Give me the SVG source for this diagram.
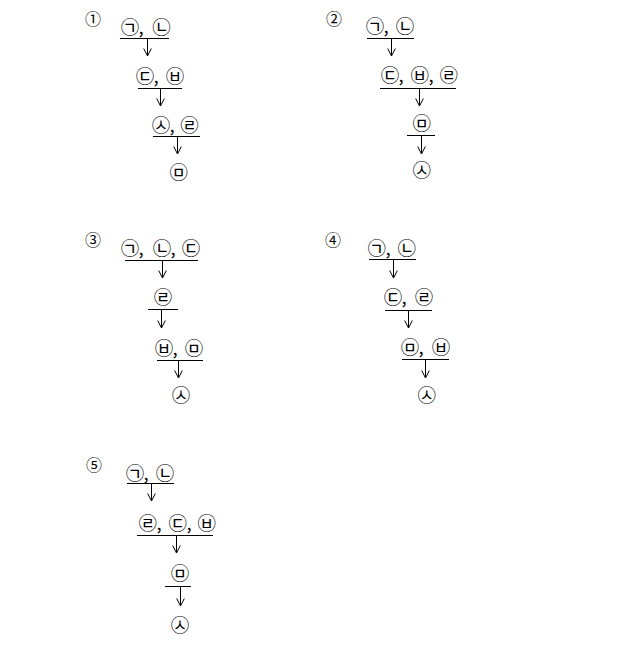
<svg xmlns="http://www.w3.org/2000/svg" width="624" height="664" viewBox="0 0 624 664">
<defs>
<style>
text{font-family:"Noto Sans CJK KR","Noto Sans CJK JP",sans-serif;fill:#000;text-anchor:middle}
.l{font-size:18.5px}
.n{font-size:16px}
.c line,.c path{stroke:#000;stroke-width:1;fill:none}
</style>
<marker id="ah" markerUnits="userSpaceOnUse" markerWidth="12" markerHeight="12" refX="0" refY="0" orient="auto" overflow="visible">
<path d="M-7.5,-3.8 L0,0 L-7.5,3.8" stroke="#000" stroke-width="1" fill="none"/>
</marker>
</defs>
<rect width="624" height="664" fill="#fff"/>

<g id="p1">
<text class="n" x="93" y="25">①</text>
<g id="p1r1"><text class="l" x="130 141 150 161.5" y="33.5">㉠, ㉡</text></g>
<g id="p1r2"><text class="l" x="145 156 165 175" y="83">㉢, ㉥</text></g>
<g id="p1r3"><text class="l" x="161 172 180 189.5" y="132">㉦, ㉣</text></g>
<g id="p1r4"><text class="l" x="178.7" y="178.5">㉤</text></g>
<g class="c">
<line x1="120" y1="38.5" x2="169" y2="38.5"/><line x1="147.5" y1="38.5" x2="147.5" y2="56" marker-end="url(#ah)"/>
<line x1="138" y1="88.5" x2="182" y2="88.5"/><line x1="160.5" y1="88.5" x2="160.5" y2="106" marker-end="url(#ah)"/>
<line x1="153" y1="136.5" x2="200" y2="136.5"/><line x1="177.5" y1="136.5" x2="177.5" y2="154" marker-end="url(#ah)"/>
</g>
</g>

<g id="p2">
<text class="n" x="334" y="24.5">②</text>
<g id="p2r1"><text class="l" x="375 386 395 405" y="33">㉠, ㉡</text></g>
<g id="p2r2"><text class="l" x="390 401 410 419.7 431 440 448.7" y="82">㉢, ㉥, ㉣</text></g>
<g id="p2r3"><text class="l" x="421.7" y="130">㉤</text></g>
<g id="p2r4"><text class="l" x="421.7" y="177">㉦</text></g>
<g class="c">
<line x1="367" y1="38.5" x2="414" y2="38.5"/><line x1="391.5" y1="38.5" x2="391.5" y2="56" marker-end="url(#ah)"/>
<line x1="380" y1="88.5" x2="456" y2="88.5"/><line x1="419.5" y1="88.5" x2="419.5" y2="106" marker-end="url(#ah)"/>
<line x1="407" y1="135.5" x2="435" y2="135.5"/><line x1="421.5" y1="135.5" x2="421.5" y2="154" marker-end="url(#ah)"/>
</g>
</g>

<g id="p3">
<text class="n" x="93" y="245.5">③</text>
<g id="p3r1"><text class="l" x="130 141 150 162 173 182 191" y="255">㉠, ㉡, ㉢</text></g>
<g id="p3r2"><text class="l" x="163" y="304">㉣</text></g>
<g id="p3r3"><text class="l" x="164 175 184 194" y="354.5">㉥, ㉤</text></g>
<g id="p3r4"><text class="l" x="181" y="402">㉦</text></g>
<g class="c">
<line x1="125" y1="260.5" x2="198" y2="260.5"/><line x1="162.5" y1="260.5" x2="162.5" y2="278" marker-end="url(#ah)"/>
<line x1="148" y1="309.5" x2="178" y2="309.5"/><line x1="161.5" y1="309.5" x2="161.5" y2="328" marker-end="url(#ah)"/>
<line x1="157" y1="360.5" x2="203" y2="360.5"/><line x1="178.5" y1="360.5" x2="178.5" y2="378" marker-end="url(#ah)"/>
</g>
</g>

<g id="p4">
<text class="n" x="333" y="245.5">④</text>
<g id="p4r1"><text class="l" x="376.7 388 397 406.7" y="255">㉠, ㉡</text></g>
<g id="p4r2"><text class="l" x="393 404 413 424" y="304">㉢, ㉣</text></g>
<g id="p4r3"><text class="l" x="410 421 430 441" y="354">㉤, ㉥</text></g>
<g id="p4r4"><text class="l" x="426.7" y="402">㉦</text></g>
<g class="c">
<line x1="369" y1="259.5" x2="416" y2="259.5"/><line x1="393.5" y1="259.5" x2="393.5" y2="278" marker-end="url(#ah)"/>
<line x1="385" y1="310.5" x2="432" y2="310.5"/><line x1="408.5" y1="310.5" x2="408.5" y2="328" marker-end="url(#ah)"/>
<line x1="402" y1="359.5" x2="449" y2="359.5"/><line x1="425.5" y1="359.5" x2="425.5" y2="378" marker-end="url(#ah)"/>
</g>
</g>

<g id="p5">
<text class="n" x="94" y="471">⑤</text>
<g id="p5r1"><text class="l" x="135 146 155 165" y="480">㉠, ㉡</text></g>
<g id="p5r2"><text class="l" x="147.7 159 168 177.7 189 198 206.7" y="530">㉣, ㉢, ㉥</text></g>
<g id="p5r3"><text class="l" x="180" y="580">㉤</text></g>
<g id="p5r4"><text class="l" x="180" y="632">㉦</text></g>
<g class="c">
<line x1="127" y1="483.5" x2="174" y2="483.5"/><line x1="151.5" y1="483.5" x2="151.5" y2="501" marker-end="url(#ah)"/>
<line x1="137" y1="535.5" x2="213" y2="535.5"/><line x1="176.5" y1="535.5" x2="176.5" y2="553" marker-end="url(#ah)"/>
<line x1="165" y1="586.5" x2="191" y2="586.5"/><line x1="180.5" y1="586.5" x2="180.5" y2="606" marker-end="url(#ah)"/>
</g>
</g>
</svg>
